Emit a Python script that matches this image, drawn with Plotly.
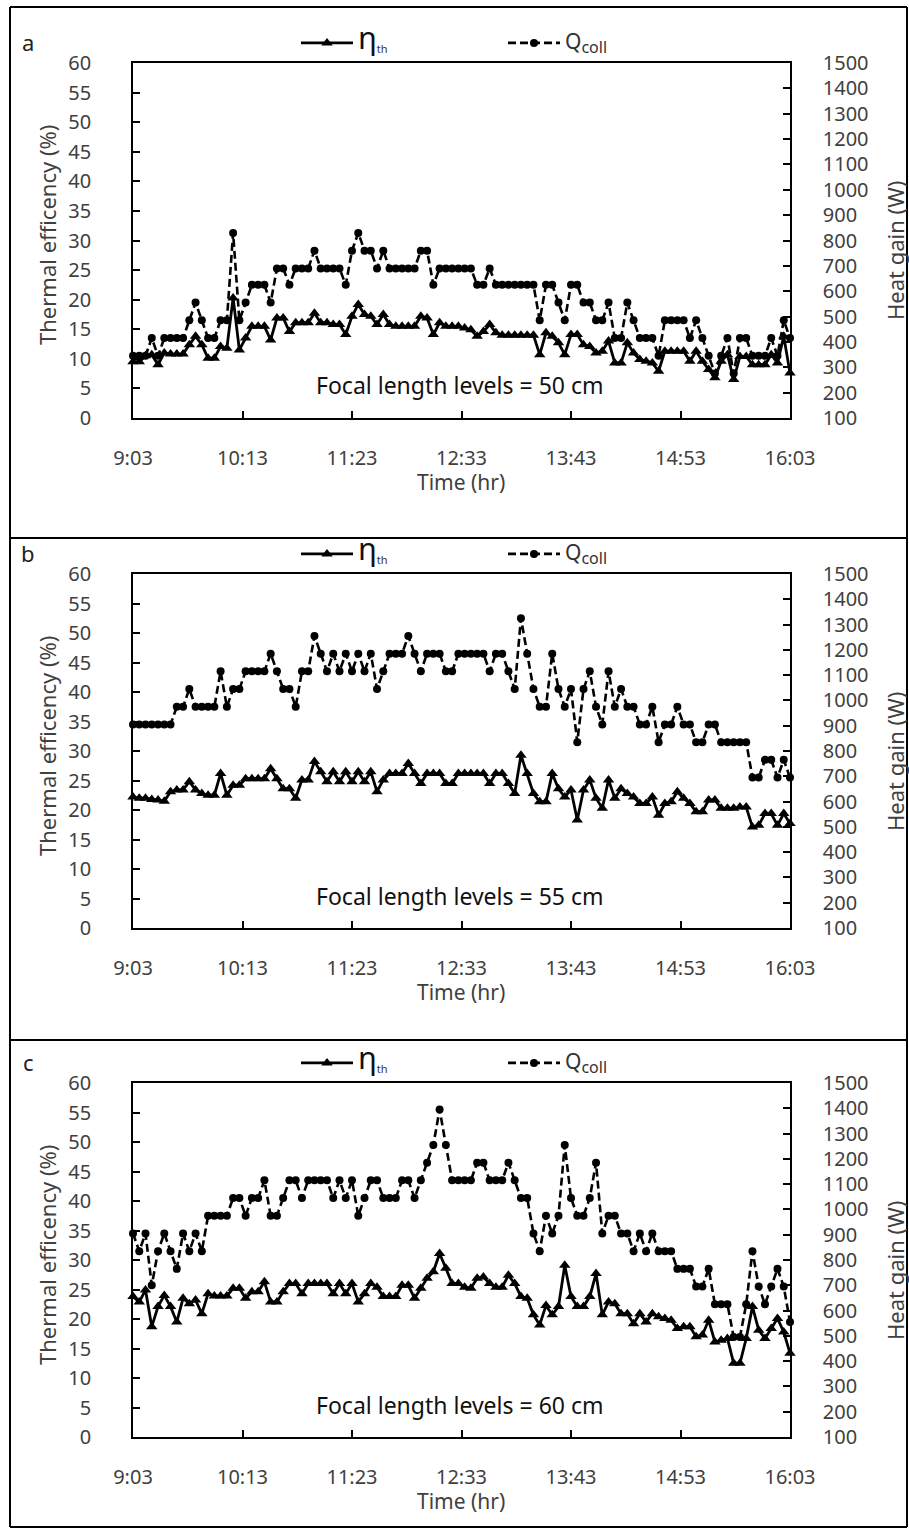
import plotly.graph_objects as go

# ---------------- data ----------------
# sampling times (minutes after midnight): 9:03 ... 16:03, every 4 minutes
time_min = list(range(543, 964, 4))
tick_vals = [543, 613, 683, 753, 823, 893, 963]
tick_labels = ["9:03", "10:13", "11:23", "12:33", "13:43", "14:53", "16:03"]

eta_a = [9.5, 9.5, 10.5, 10.7, 9.0, 11.0, 10.8, 10.8, 10.8, 12.4, 13.8, 12.4, 10.1, 10.1, 12.1, 11.8,
         20.3, 11.5, 13.5, 15.5, 15.5, 15.5, 13.2, 16.9, 16.9, 14.6, 16.1, 16.1, 16.1, 17.7, 16.1, 16.1,
         15.8, 15.8, 14.1, 17.2, 19.2, 17.5, 17.2, 15.8, 17.5, 15.8, 15.5, 15.5, 15.5, 15.5, 17.2, 16.9,
         14.1, 16.1, 15.5, 15.5, 15.5, 15.2, 14.9, 13.8, 14.6, 15.8, 14.4, 14.0, 14.0, 14.0, 14.0, 14.0,
         14.0, 10.7, 14.4, 13.8, 12.7, 10.7, 14.1, 14.1, 12.4, 12.1, 11.0, 11.3, 13.0, 9.3, 9.3, 12.7,
         11.0, 9.9, 9.6, 9.3, 7.9, 11.3, 11.3, 11.3, 11.3, 9.6, 11.3, 9.6, 8.2, 6.8, 9.6, 10.7,
         6.5, 10.4, 10.4, 9.0, 9.0, 9.0, 10.7, 9.3, 13.8, 7.6]
q_a = [345, 345, 345, 415, 345, 415, 415, 415, 415, 485, 555, 485, 415, 415, 485, 485,
       830, 485, 555, 625, 625, 625, 555, 690, 690, 625, 690, 690, 690, 760, 690, 690,
       690, 690, 625, 760, 830, 760, 760, 690, 760, 690, 690, 690, 690, 690, 760, 760,
       625, 690, 690, 690, 690, 690, 690, 625, 625, 690, 625, 625, 625, 625, 625, 625,
       625, 485, 625, 625, 555, 485, 625, 625, 555, 555, 485, 485, 555, 415, 415, 555,
       485, 415, 415, 415, 345, 485, 485, 485, 485, 415, 485, 415, 345, 275, 345, 415,
       275, 415, 415, 345, 345, 345, 415, 345, 485, 415]

eta_b = [22.2, 22.0, 22.0, 21.8, 21.7, 21.5, 23.1, 23.4, 23.4, 24.8, 23.4, 22.8, 22.5, 22.5, 26.2, 22.5,
         24.2, 24.2, 25.3, 25.3, 25.3, 25.3, 27.0, 25.3, 23.6, 23.6, 22.0, 25.1, 25.1, 28.2, 26.5, 24.8,
         26.5, 24.8, 26.5, 24.8, 26.5, 24.8, 26.5, 23.1, 25.1, 26.2, 26.2, 26.2, 27.9, 26.2, 24.5, 26.2,
         26.2, 26.2, 24.5, 24.5, 26.2, 26.2, 26.2, 26.2, 26.2, 24.5, 26.2, 26.2, 24.5, 22.8, 29.3, 26.2,
         22.8, 21.4, 21.4, 26.2, 23.6, 22.2, 23.4, 18.3, 23.4, 25.1, 22.0, 20.3, 25.1, 22.0, 23.6, 22.8,
         22.2, 21.1, 21.1, 22.2, 19.1, 21.1, 21.4, 23.1, 22.0, 21.1, 19.7, 19.7, 21.7, 21.7, 20.3, 20.3,
         20.3, 20.5, 20.5, 17.1, 17.4, 19.4, 19.4, 17.4, 19.4, 17.7]
q_b = [905, 905, 905, 905, 905, 905, 905, 975, 975, 1045, 975, 975, 975, 975, 1115, 975,
       1045, 1045, 1115, 1115, 1115, 1115, 1185, 1115, 1045, 1045, 975, 1115, 1115, 1255, 1185, 1115,
       1185, 1115, 1185, 1115, 1185, 1115, 1185, 1045, 1115, 1185, 1185, 1185, 1255, 1185, 1115, 1185,
       1185, 1185, 1115, 1115, 1185, 1185, 1185, 1185, 1185, 1115, 1185, 1185, 1115, 1045, 1325, 1185,
       1045, 975, 975, 1185, 1045, 975, 1045, 835, 1045, 1115, 975, 905, 1115, 975, 1045, 975,
       975, 905, 905, 975, 835, 905, 905, 975, 905, 905, 835, 835, 905, 905, 835, 835,
       835, 835, 835, 695, 695, 765, 765, 695, 765, 695]

eta_c = [23.8, 22.9, 24.9, 18.7, 22.1, 24.0, 22.1, 19.5, 23.5, 22.6, 23.2, 20.9, 24.3, 23.9, 23.9, 23.9,
         25.2, 25.2, 23.5, 24.6, 24.6, 26.3, 22.9, 22.9, 24.6, 26.0, 26.0, 24.3, 26.0, 26.0, 26.0, 26.0,
         24.3, 26.0, 24.3, 26.0, 22.9, 24.3, 26.0, 25.4, 23.8, 23.8, 23.8, 25.7, 25.7, 23.5, 25.2, 26.9,
         28.0, 31.1, 28.6, 26.0, 26.0, 25.4, 25.2, 26.9, 27.1, 26.0, 25.4, 25.4, 27.4, 26.0, 23.8, 23.5,
         20.7, 19.0, 22.3, 20.7, 22.1, 29.1, 23.8, 22.1, 22.1, 23.8, 27.7, 20.7, 22.9, 22.6, 20.9, 20.9,
         19.2, 20.9, 19.5, 20.9, 20.4, 20.1, 19.8, 18.4, 18.7, 18.7, 17.0, 17.3, 19.8, 16.1, 16.4, 16.7,
         12.5, 12.5, 16.7, 22.1, 18.1, 16.7, 18.4, 20.1, 17.8, 14.2]
q_c = [905, 835, 905, 700, 835, 905, 835, 765, 905, 835, 905, 835, 975, 975, 975, 975,
       1045, 1045, 975, 1045, 1045, 1115, 975, 975, 1045, 1115, 1115, 1045, 1115, 1115, 1115, 1115,
       1045, 1115, 1045, 1115, 975, 1045, 1115, 1115, 1045, 1045, 1045, 1115, 1115, 1045, 1115, 1185,
       1255, 1395, 1255, 1115, 1115, 1115, 1115, 1185, 1185, 1115, 1115, 1115, 1185, 1115, 1045, 1045,
       905, 835, 975, 905, 975, 1255, 1045, 975, 975, 1045, 1185, 905, 975, 975, 905, 905,
       835, 905, 835, 905, 835, 835, 835, 765, 765, 765, 695, 695, 765, 625, 625, 625,
       495, 495, 625, 835, 695, 625, 695, 765, 695, 555]

panels = [
    ("a", "50", eta_a, q_a),
    ("b", "55", eta_b, q_b),
    ("c", "60", eta_c, q_c),
]

# ---------------- layout helpers (pixel -> paper) ----------------
W, H = 909, 1528
def fx(p):
    return p / W
def fy(p):
    return 1 - p / H

PLOT_L, PLOT_R = 133, 790
tops = [63, 574, 1083]
bots = [418, 928, 1437]

TICK_COLOR = "#404040"
FONT = "Noto Sans"

fig = go.Figure()
layout = dict(
    template="none",
    width=W, height=H, autosize=False,
    margin=dict(l=0, r=0, t=0, b=0, pad=0),
    paper_bgcolor="white", plot_bgcolor="white",
    font=dict(family=FONT, size=18, color=TICK_COLOR),
    showlegend=True,
)
annotations = []
shapes = []

eta_name = ('<span style="font-size:31px;color:#111">η</span>'
            '<sub><span style="font-size:11px;color:#333">th</span></sub>')
q_name = ('<span style="font-size:21px">Q</span>'
          '<sub><span style="font-size:16px">coll</span></sub>')

def ann(text, x, y, size, color, angle=0):
    return dict(text=text, x=fx(x), y=fy(y), xref="paper", yref="paper",
                xanchor="center", yanchor="middle", showarrow=False, textangle=angle,
                font=dict(family=FONT, size=size, color=color))

for k, (lab, focal, eta, q) in enumerate(panels):
    n = k + 1
    xa = "x" if n == 1 else f"x{n}"
    yl = 2 * n - 1
    yr = 2 * n
    yla = "y" if yl == 1 else f"y{yl}"
    yra = f"y{yr}"
    leg = "legend" if n == 1 else f"legend{n}"
    top, bot = tops[k], bots[k]
    ydom = [fy(bot), fy(top)]

    fig.add_trace(go.Scatter(
        x=time_min, y=eta, xaxis=xa, yaxis=yla, mode="lines+markers",
        name=eta_name, legend=leg, cliponaxis=False,
        line=dict(color="black", width=2.8),
        marker=dict(symbol="triangle-up", size=10, color="black"),
    ))
    fig.add_trace(go.Scatter(
        x=time_min, y=q, xaxis=xa, yaxis=yra, mode="lines+markers",
        name=q_name, legend=leg, cliponaxis=False,
        line=dict(color="black", width=2.6, dash="8px,4px"),
        marker=dict(symbol="circle", size=8, color="black"),
    ))

    xkey = "xaxis" if n == 1 else f"xaxis{n}"
    ylkey = "yaxis" if yl == 1 else f"yaxis{yl}"
    yrkey = f"yaxis{yr}"
    common = dict(showgrid=False, zeroline=False, showline=True, linecolor="black",
                  linewidth=1.5, ticks="inside", ticklen=7, tickwidth=1.5, tickcolor="black",
                  automargin=False,
                  tickfont=dict(family=FONT, size=20, color=TICK_COLOR))
    layout[xkey] = dict(common, domain=[fx(PLOT_L), fx(PLOT_R)], anchor=yla,
                        range=[time_min[0], time_min[-1]], tickmode="array",
                        tickvals=tick_vals, ticktext=tick_labels, mirror=True,
                        ticklabelstandoff=21)
    layout[ylkey] = dict(common, domain=ydom, anchor=xa, range=[0, 60], dtick=5,
                         tick0=0, ticklabelstandoff=36)
    layout[yrkey] = dict(common, domain=ydom, anchor=xa, overlaying=yla, side="right",
                         range=[100, 1500], dtick=100, tick0=100, ticklabelstandoff=27)

    layout[leg] = dict(orientation="h", x=fx(296), y=fy(top - 20), xanchor="left",
                       yanchor="middle", bgcolor="rgba(0,0,0,0)", borderwidth=0,
                       entrywidth=140, entrywidthmode="pixels", itemwidth=52,
                       font=dict(family=FONT, size=16, color="#333"))

    annotations.append(ann(lab, 28, top - 21, 22, "#222"))
    annotations.append(ann(f"Focal length levels = {focal} cm", 459, top + 322, 23, "#111"))
    annotations.append(ann("Thermal efficency (%)", 47, top + 172, 22, TICK_COLOR, -90))
    annotations.append(ann("Heat gain (W)", 895, top + 188, 22, TICK_COLOR, -90))
    annotations.append(ann("Time (hr)", 461, bot + 64, 21, TICK_COLOR))

# outer frame and panel separators
for (x0, y0, x1, y1) in [(10, 7, 907, 7), (10, 7, 10, 1527), (907, 7, 907, 1527),
                         (10, 1527, 907, 1527), (10, 538, 907, 538), (10, 1040, 907, 1040)]:
    shapes.append(dict(type="line", xref="paper", yref="paper", x0=fx(x0), y0=fy(y0),
                       x1=fx(x1), y1=fy(y1), line=dict(color="black", width=2)))

layout["annotations"] = annotations
layout["shapes"] = shapes
fig.update_layout(**layout)

fig.write_html("out.html", config={"displayModeBar": False},
               post_script="document.body.style.margin='0px';")
